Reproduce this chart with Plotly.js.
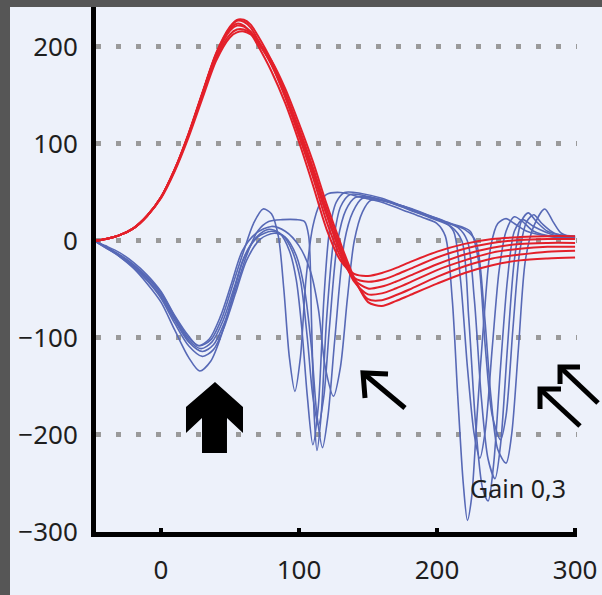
<!DOCTYPE html>
<html>
<head>
<meta charset="utf-8">
<script src="https://cdn.plot.ly/plotly-3.0.1.min.js"></script>
<style>
  html, body { margin:0; padding:0; background:#565656; width:602px; height:595px; overflow:hidden; }
  #chart { position:absolute; left:10px; top:7px; width:592px; height:588px; }
</style>
</head>
<body>
<div id="chart"></div>
<script>
// ---------- DATA ----------
const redX = [-48,-40,-30,-20,-10,0,10,20,30,40,50,55,60,65,70,80,90,100,110,120,130,140,150,160,170,180,200,220,240,260,280,300];
const red1 = [0,2,6,13,26,45,74,110,152,192,218,224,222,214,202,175,142,102,58,12,-20,-34,-36,-33,-28,-22,-11,-3,2,4,5,5];
const red2 = [0,2,6,13,26,45,74,110,152,193,220,227,226,220,208,182,148,108,66,20,-16,-38,-42,-40,-35,-29,-17,-8,-2,1,2,2];
const red3 = [0,2,6,13,26,45,74,111,153,194,221,228,228,223,212,186,153,114,72,27,-12,-40,-49,-47,-42,-36,-24,-14,-7,-3,-2,-2];
const red4 = [0,2,6,13,26,45,74,110,152,192,217,222,221,216,206,182,150,112,71,28,-10,-42,-55,-54,-49,-43,-30,-20,-12,-8,-6,-6];
const red5 = [0,2,6,13,26,45,73,109,150,189,213,218,218,214,205,183,152,116,76,33,-6,-40,-60,-61,-56,-50,-37,-26,-18,-14,-11,-10];
const red6 = [0,2,6,13,26,44,72,107,147,186,210,215,216,213,206,186,157,121,82,38,-2,-38,-63,-67,-62,-56,-44,-33,-25,-20,-18,-17];

const blue1X = [-48,-40,-30,-20,-10,0,10,20,28,36,44,52,60,67,74,80,85,89,93,97,101,105,110,115,120,130,145,160,175,190,200,206,211,215,219,222,225,229,234,239,244,250,256,265,280,300];
const blue1Y = [0,-6,-14,-24,-37,-53,-78,-100,-108,-102,-80,-45,-10,18,33,28,5,-50,-120,-155,-120,-40,15,38,48,50,45,40,32,24,18,5,-60,-160,-250,-288,-265,-180,-80,-5,18,23,18,10,5,3];

const blue2X = [-48,-40,-30,-20,-10,0,10,20,29,37,45,53,61,70,78,86,93,98,102,106,110,114,118,122,127,133,145,160,175,190,205,212,217,222,227,231,235,240,245,250,256,262,270,285,300];
const blue2Y = [0,-7,-15,-25,-38,-55,-80,-102,-111,-104,-82,-48,-14,5,12,8,-10,-40,-90,-160,-210,-170,-60,10,40,50,49,44,36,28,20,10,-40,-130,-200,-224,-195,-110,-30,10,25,20,10,4,2];

const blue3X = [-48,-40,-30,-20,-10,0,10,20,30,38,46,54,62,70,78,88,98,104,107,109,111,113,116,120,125,130,137,150,165,180,195,210,218,223,228,233,237,241,246,251,256,262,270,285,300];
const blue3Y = [0,-6,-15,-26,-40,-57,-82,-104,-114,-107,-84,-50,-15,10,20,22,22,20,5,-80,-180,-216,-180,-80,0,35,48,46,40,32,24,15,0,-80,-190,-255,-268,-230,-130,-40,10,22,15,6,4];

const blue4X = [-48,-40,-30,-20,-10,0,10,20,28,36,44,52,60,70,80,88,95,101,106,110,114,118,122,128,134,141,155,170,185,200,215,222,227,232,237,242,246,251,256,261,266,272,280,290,300];
const blue4Y = [0,-6,-16,-28,-44,-63,-92,-120,-134,-124,-96,-56,-18,4,10,6,-10,-40,-100,-160,-190,-160,-90,0,32,45,44,38,30,22,14,0,-60,-160,-225,-245,-210,-110,-20,20,29,20,10,6,5];

const blue5X = [-48,-40,-30,-20,-10,0,10,20,30,38,46,54,62,72,82,90,98,104,109,113,117,121,126,133,139,146,160,175,190,205,220,228,234,239,244,250,254,259,264,270,278,284,290,300];
const blue5Y = [0,-7,-16,-27,-41,-59,-85,-108,-119,-112,-88,-54,-20,2,8,4,-15,-50,-110,-180,-213,-180,-100,0,30,44,42,36,28,20,12,0,-70,-160,-215,-229,-200,-110,-20,15,33,20,8,3];

const blue6X = [-48,-40,-30,-20,-10,0,10,20,27,35,43,51,59,69,80,90,100,108,114,119,125,130,135,140,146,152,165,180,195,210,224,230,235,240,246,250,255,260,265,270,276,285,300];
const blue6Y = [0,-5,-12,-22,-35,-52,-77,-98,-108,-101,-78,-44,-10,8,15,10,-5,-30,-70,-130,-160,-130,-60,0,30,42,40,34,26,18,10,-20,-110,-180,-205,-180,-90,-10,20,27,18,8,4];

const xTickVals = [0, 100, 200, 300];
const xTickText = ["0", "100", "200", "300"];
const yTickVals = [-300, -200, -100, 0, 100, 200];
const yTickText = ["\u2212300", "\u2212200", "\u2212100", "0", "100", "200"];
const gainLabel = "Gain 0,3";

// ---------- helpers for decorations (page pixel -> paper) ----------
const PL = 96, PR = 577, PT = 7, PB = 532;
function px(x){ return (x - PL) / (PR - PL); }
function py(y){ return (PB - y) / (PB - PT); }
function pathFrom(points, close){
  let s = points.map((p,i)=> (i===0?'M':'L') + px(p[0]).toFixed(4) + ',' + py(p[1]).toFixed(4)).join(' ');
  return close ? s + ' Z' : s;
}

// ---------- traces ----------
const traces = [];
const blueSets = [[blue1X,blue1Y],[blue2X,blue2Y],[blue3X,blue3Y],[blue4X,blue4Y],[blue5X,blue5Y],[blue6X,blue6Y]];
blueSets.forEach(s => traces.push({
  x: s[0], y: s[1], type:'scatter', mode:'lines',
  line:{color:'#5769b6', width:1.6, shape:'spline', smoothing:0.8},
  hoverinfo:'skip', showlegend:false
}));
[red1,red2,red3,red4,red5,red6].forEach(r => traces.push({
  x: redX, y: r, type:'scatter', mode:'lines',
  line:{color:'#e3202a', width:2, shape:'spline', smoothing:0.8},
  hoverinfo:'skip', showlegend:false
}));

// ---------- decorations ----------
const bigArrow = [[215,382],[243,407],[243,433],[227,418],[227,453],[202,453],[202,418],[186,433],[186,407]];
const shapes = [
  {type:'path', xref:'paper', yref:'paper', path: pathFrom(bigArrow, true), fillcolor:'#000', line:{width:0}},
  {type:'path', xref:'paper', yref:'paper', path: pathFrom([[405,408],[363,373]]), line:{color:'#000', width:5}},
  {type:'path', xref:'paper', yref:'paper', path: pathFrom([[388,374],[363,373],[365,398]]), line:{color:'#000', width:5}},
  {type:'path', xref:'paper', yref:'paper', path: pathFrom([[580,426],[540,389]]), line:{color:'#000', width:5}},
  {type:'path', xref:'paper', yref:'paper', path: pathFrom([[561,389],[540,389],[540,409]]), line:{color:'#000', width:5}},
  {type:'path', xref:'paper', yref:'paper', path: pathFrom([[598,403],[560,367]]), line:{color:'#000', width:5}},
  {type:'path', xref:'paper', yref:'paper', path: pathFrom([[580,367],[560,367],[560,384]]), line:{color:'#000', width:5}}
];

const layout = {
  width: 592, height: 588,
  margin: {l: PL-10, r: 592-(PR-10), t: PT-7, b: 588-(PB-7)},
  paper_bgcolor: '#edf1fa', plot_bgcolor: '#edf1fa',
  showlegend: false,
  font: {family: 'Noto Sans, Open Sans, sans-serif', color: '#1e1e1e'},
  xaxis: {
    range: [-47.1, 301.4], tickvals: xTickVals, ticktext: xTickText,
    showgrid: false, zeroline: false,
    showline: true, linecolor: '#000', linewidth: 5,
    ticks: 'inside', ticklen: 4, tickwidth: 4, tickcolor: '#000',
    ticklabelstandoff: 11,
    tickfont: {size: 26, color: '#1e1e1e'}
  },
  yaxis: {
    range: [-300, 241.2], tickvals: yTickVals, ticktext: yTickText,
    showgrid: true, gridcolor: '#9a9a9a', gridwidth: 5, griddash: '5px,15px',
    zeroline: false,
    showline: true, linecolor: '#000', linewidth: 5,
    ticks: '', ticklabelstandoff: 8,
    tickfont: {size: 26, color: '#1e1e1e'}
  },
  shapes: shapes,
  annotations: [
    {text: gainLabel, xref:'paper', yref:'paper', x: px(518), y: py(488), xanchor:'center', yanchor:'middle',
     showarrow:false, font:{size:25, color:'#1e1e1e', family:'Noto Sans, sans-serif'}}
  ]
};

Plotly.newPlot('chart', traces, layout, {displayModeBar:false, staticPlot:true});
</script>
</body>
</html>
